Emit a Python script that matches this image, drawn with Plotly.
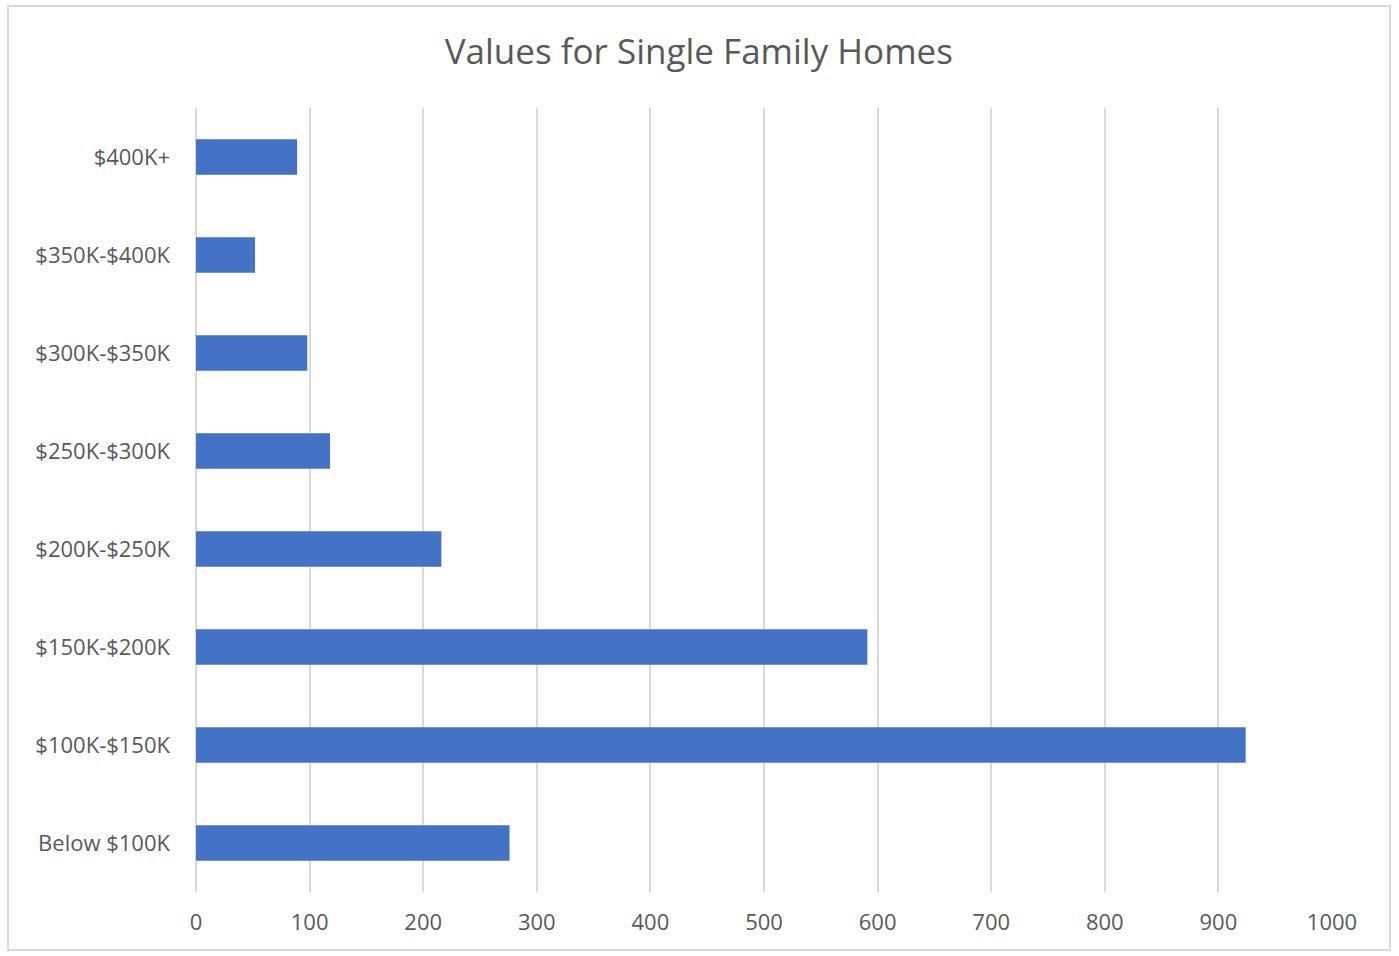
import plotly.graph_objects as go

categories = ["Below $100K", "$100K-$150K", "$150K-$200K", "$200K-$250K",
              "$250K-$300K", "$300K-$350K", "$350K-$400K", "$400K+"]
counts = [276, 924, 591, 216, 118, 98, 52, 89]
x_ticks = [0, 100, 200, 300, 400, 500, 600, 700, 800, 900, 1000]

FONT = "Open Sans"
GRAY = "#595959"

fig = go.Figure(go.Bar(
    y=categories,
    x=counts,
    orientation="h",
    marker=dict(color="#4472C4", line=dict(width=0)),
    width=0.36,
))

fig.update_layout(
    width=1399,
    height=956,
    paper_bgcolor="white",
    plot_bgcolor="white",
    margin=dict(l=196, r=67, t=108, b=64),
    showlegend=False,
    title=dict(
        text="Values for Single Family Homes",
        x=0.4995, xanchor="center",
        y=1 - 52 / 956, yanchor="middle",
        font=dict(family=FONT, size=35, color=GRAY),
    ),
    font=dict(family=FONT, size=22, color=GRAY),
    shapes=[dict(
        type="rect", xref="paper", yref="paper",
        x0=-188 / 1136, x1=1 + 58 / 1136,
        y0=-58 / 784, y1=1 + 102 / 784,
        line=dict(color="#D9D9D9", width=2),
        fillcolor="rgba(0,0,0,0)", layer="below",
    )],
)

fig.update_xaxes(
    range=[0, 1000],
    tickvals=x_ticks,
    showgrid=True, gridcolor="#D9D9D9", gridwidth=2,
    zeroline=True, zerolinecolor="#D9D9D9", zerolinewidth=2,
    showline=False,
    ticks="", ticklabelstandoff=15,
    tickfont=dict(family=FONT, size=22, color=GRAY),
)

fig.update_yaxes(
    categoryorder="array", categoryarray=categories,
    showgrid=False, showline=False, ticks="",
    ticklabelstandoff=25,
    tickfont=dict(family=FONT, size=22, color=GRAY),
)

fig.write_html("out.html")
